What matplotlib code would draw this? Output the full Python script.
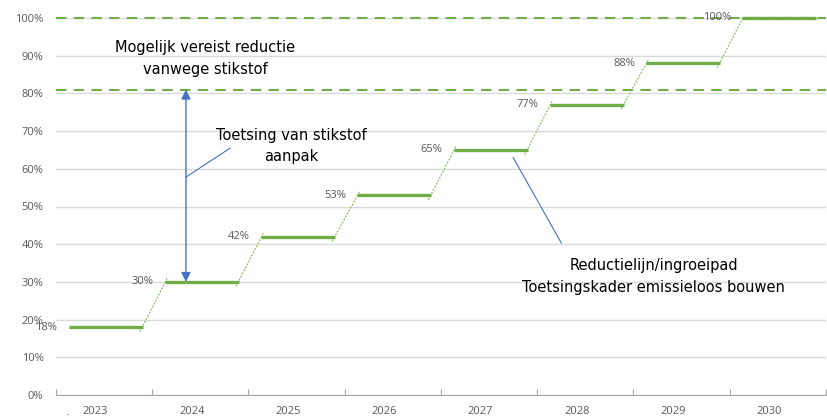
import matplotlib
matplotlib.use('Agg')
import matplotlib.pyplot as plt

# ============ DATA ============
years = ['2023', '2024', '2025', '2026', '2027', '2028', '2029', '2030']
reduction = [18, 30, 42, 53, 65, 77, 88, 100]
limit_upper = 100
limit_stikstof = 81

GREEN = '#70ad47'
BLUE = '#4472c4'
GRAY = '#595959'

fig = plt.figure(figsize=(8.28, 4.17), dpi=100)
ax = fig.add_axes([56 / 828, 1 - 395 / 417, 770 / 828, 377 / 417])
ax.set_xlim(0, len(years))
ax.set_ylim(0, 100)

# gridlines
ax.set_yticks(range(0, 101, 10))
ax.set_yticklabels([f'{v}%' for v in range(0, 101, 10)])
ax.yaxis.grid(True, color='#d9d9d9', lw=1)
ax.set_axisbelow(True)

# category ticks on boundaries, labels near the middle
ax.set_xticks(range(len(years) + 1))
ax.set_xticklabels([])
ax.set_xticks([i + 0.41 for i in range(len(years))], minor=True)
ax.set_xticklabels(years, minor=True)
ax.tick_params(axis='x', which='major', direction='in', length=4, color='#a6a6a6')
ax.tick_params(axis='x', which='minor', length=0, pad=8, labelsize=8, labelcolor=GRAY)
ax.tick_params(axis='y', length=0, pad=9, labelsize=8, labelcolor=GRAY)
for lbl in ax.get_xticklabels(minor=True) + ax.get_yticklabels():
    lbl.set_fontfamily('Open Sans')
for s in ['left', 'right', 'top']:
    ax.spines[s].set_visible(False)
ax.spines['bottom'].set_color('#a6a6a6')
ax.text(0.12, -3.2, '.', fontsize=8, color=GRAY, ha='center', va='top', clip_on=False)

# dashed limit lines
for lim in [limit_upper, limit_stikstof]:
    ax.axhline(lim, color=GREEN, lw=1.5, ls=(0, (5, 3.5)), clip_on=False, zorder=3)

# step segments
x0, x1 = 0.13, 0.9
for i, v in enumerate(reduction):
    ax.plot([i + x0, i + x1], [v, v], color=GREEN, lw=2.4, solid_capstyle='butt',
            clip_on=False, zorder=4)
    ax.annotate(f'{v}%', (i + x0, v), xytext=(-8, 0), textcoords='offset points',
                ha='right', va='center', fontsize=8, color=GRAY, family='Open Sans',
                zorder=5)
    if i < len(reduction) - 1:
        nv = reduction[i + 1]
        ax.plot([i + x1 - 0.03, i + 1 + x0 + 0.03], [v - 1.2, nv + 1.2], color=GREEN,
                lw=0.7, ls=(0, (2, 1.5)), zorder=3)

# annotations
ax.annotate('', xy=(1.35, limit_stikstof), xytext=(1.35, reduction[1]),
            arrowprops=dict(arrowstyle='<|-|>', color=BLUE, lw=1, mutation_scale=14,
                            shrinkA=0, shrinkB=0))
ax.text(1.55, 89.3, 'Mogelijk vereist reductie\nvanwege stikstof', ha='center', va='center',
        fontsize=10.5, color='black', linespacing=1.55)
ax.text(2.44, 66, 'Toetsing van stikstof\naanpak', ha='center', va='center',
        fontsize=10.5, color='black', linespacing=1.55)
ax.plot([1.35, 1.81], [57.8, 65.5], color=BLUE, lw=0.8)
ax.text(6.21, 31.4, 'Reductielijn/ingroeipad\nToetsingskader emissieloos bouwen', ha='center',
        va='center', fontsize=10.5, color='black', linespacing=1.55)
ax.plot([4.75, 5.25], [63, 40.3], color=BLUE, lw=0.8)

fig.savefig('out.png', dpi=100)
